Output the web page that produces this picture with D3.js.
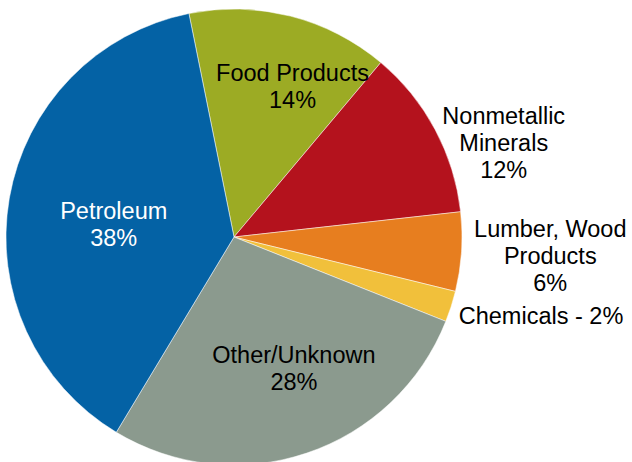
<!DOCTYPE html>
<html>
<head>
    <meta charset="utf-8">
    <script src="https://d3js.org/d3.v7.min.js"></script>
    <style>
        html, body { margin: 0; padding: 0; background: #fff; }
        svg text {
            font-family: "Liberation Sans", Arial, sans-serif;
            font-size: 23.5px;
        }
    </style>
</head>
<body>
<div id="chart"></div>
<script>

    // slices, clockwise from the top-left edge of Food Products
    var categories = ["Food Products", "Nonmetallic Minerals", "Lumber, Wood Products",
                      "Chemicals", "Other/Unknown", "Petroleum"];
    var shares = [14.3, 12.1, 5.6, 2.2, 27.6, 38.2];

    // how each label is broken into lines ("%" is replaced by the rounded share)
    var labelLines = [
        ["Food Products", "%"],
        ["Nonmetallic", "Minerals", "%"],
        ["Lumber, Wood", "Products", "%"],
        ["Chemicals - %"],
        ["Other/Unknown", "%"],
        ["Petroleum", "%"]
    ];

    var colors = ["#9cab24", "#b4121d", "#e77e1f", "#f1c03b", "#8b9a8e", "#0462a5"];
    var textColors = ["#000", "#000", "#000", "#000", "#000", "#fff"];

    // nudge of each label away from its arc centroid
    var labelOffsets = [[19, -1], [129, -38], [157, -10], [155, 38], [9, -25], [37, 9]];

    var width = 632, height = 462;
    var cx = 234, cy = 237, radius = 228;
    var lineHeight = 27;

    var data = categories.map(function(c, i) { return {name: c, value: shares[i], i: i}; });

    var pie = d3.pie()
        .value(function(d) { return d.value; })
        .sort(null)
        .startAngle(-0.199)
        .endAngle(-0.199 + 2 * Math.PI);

    var arc = d3.arc().innerRadius(0).outerRadius(radius);
    var labelArc = d3.arc().innerRadius(radius * 0.7).outerRadius(radius * 0.7);

    var svg = d3.select("#chart").append("svg")
        .attr("width", width)
        .attr("height", height);

    var g = svg.append("g")
        .attr("transform", "translate(" + cx + "," + cy + ")");

    var arcs = pie(data);

    g.selectAll("path.slice")
        .data(arcs)
        .enter().append("path")
        .attr("class", "slice")
        .attr("d", arc)
        .attr("fill", function(d) { return colors[d.data.i]; })
        .attr("stroke", "#fff")
        .attr("stroke-width", 0.5);

    var labels = g.selectAll("text.label")
        .data(arcs)
        .enter().append("text")
        .attr("class", "label")
        .attr("text-anchor", "middle")
        .attr("fill", function(d) { return textColors[d.data.i]; })
        .attr("transform", function(d) {
            var c = labelArc.centroid(d);
            var o = labelOffsets[d.data.i];
            return "translate(" + (c[0] + o[0]) + "," + (c[1] + o[1]) + ")";
        });

    labels.selectAll("tspan")
        .data(function(d) {
            var pct = Math.round(d.data.value) + "%";
            return labelLines[d.data.i].map(function(l) { return l.replace("%", pct); });
        })
        .enter().append("tspan")
        .attr("x", 0)
        .attr("y", function(d, i) { return i * lineHeight; })
        .text(function(d) { return d; });

</script>
</body>
</html>
